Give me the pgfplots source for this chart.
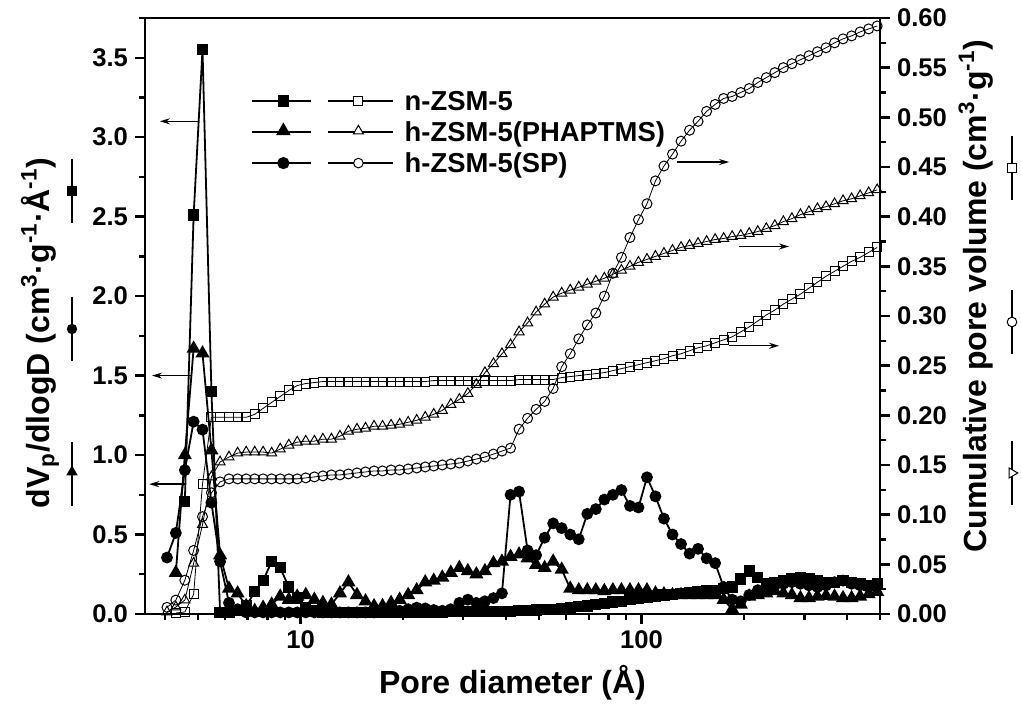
\documentclass[border=0pt]{standalone}
\usepackage{fontspec}
\setmainfont{Liberation Sans}
\usepackage{pgfplots}
\pgfplotsset{compat=1.18}
\usepackage{pgfplotstable}
\usetikzlibrary{arrows.meta}

% BJH pore size distribution: dV/dlogD (filled, left axis) and cumulative volume (open, right axis)
\pgfplotstableread{
D      sq     tri    cir    osq    otri   ocir
4.06   nan    nan    0.355  nan    0.002  0.0067
4.31   nan    0.26   0.51   0.001  0.007  0.014
4.58   0.71   1.00   0.905  0.002  0.014  0.034
4.86   2.51   1.67   1.21   0.020  0.051  0.064
5.16   3.55   1.64   1.16   0.131  0.090  0.098
5.48   1.40   1.03   0.70   0.198  0.138  0.122
5.81   0.01   0.37   0.33   0.198  0.153  0.133
6.17   0.01   0.16   0.07   0.198  0.158  0.136
6.54   0.02   0.13   0.03   0.198  0.162  0.136
6.93   0.05   0.05   0.01   0.198  0.163  0.136
7.34   0.14   0.02   0.01   0.201  0.163  0.136
7.77   0.21   0.04   0.01   0.207  0.163  0.136
8.23   0.33   0.06   0.01   0.213  0.162  0.136
8.72   0.29   0.11   0.01   0.219  0.166  0.136
9.24   0.17   0.09   0.01   0.225  0.170  0.136
9.78   0.10   0.11   0.01   0.230  0.173  0.136
10.36  0.04   0.12   0.01   0.232  0.174  0.137
10.98  0.02   0.09   0.01   0.233  0.174  0.138
11.63  0.01   0.07   0.01   0.234  0.176  0.139
12.32  0.01   0.06   0.01   0.234  0.176  0.140
13.05  0.01   0.13   0.01   0.234  0.179  0.140
13.82  0.01   0.20   0.01   0.234  0.184  0.141
14.64  0.01   0.12   0.01   0.234  0.186  0.142
15.51  0.01   0.08   0.01   0.234  0.187  0.143
16.43  0.01   0.05   0.01   0.234  0.189  0.144
17.40  0.01   0.05   0.015  0.234  0.189  0.144
18.43  0.01   0.07   0.02   0.234  0.190  0.145
19.53  0.01   0.09   0.02   0.234  0.191  0.145
20.68  0.01   0.12   0.03   0.234  0.193  0.146
21.91  0.01   0.15   0.04   0.234  0.195  0.147
23.21  0.01   0.20   0.035  0.234  0.198  0.148
24.58  0.01   0.21   0.025  0.235  0.201  0.149
26.04  0.01   0.23   0.02   0.235  0.205  0.150
27.58  0.015  0.26   0.03   0.235  0.211  0.151
29.22  0.015  0.29   0.07   0.235  0.216  0.152
30.95  0.015  0.27   0.09   0.235  0.222  0.154
32.78  0.015  0.25   0.07   0.235  0.231  0.156
34.73  0.015  0.27   0.08   0.235  0.243  0.158
36.79  0.015  0.32   0.10   0.235  0.252  0.161
38.96  0.015  0.33   0.13   0.235  0.262  0.164
41.28  0.015  0.36   0.75   0.235  0.271  0.167
43.72  0.02   0.375  0.77   0.236  0.284  0.186
46.31  0.02   0.35   0.40   0.236  0.293  0.197
49.06  0.025  0.31   0.37   0.236  0.304  0.206
51.97  0.03   0.29   0.48   0.236  0.312  0.214
55.05  0.03   0.33   0.57   0.236  0.319  0.227
58.31  0.035  0.28   0.54   0.238  0.323  0.249
61.77  0.04   0.16   0.50   0.239  0.326  0.262
65.43  0.045  0.15   0.47   0.240  0.329  0.277
69.31  0.05   0.15   0.63   0.241  0.332  0.291
73.42  0.06   0.15   0.66   0.242  0.335  0.303
77.77  0.065  0.145  0.72   0.243  0.338  0.320
82.38  0.075  0.15   0.75   0.245  0.342  0.343
87.26  0.08   0.15   0.78   0.247  0.346  0.359
92.43  0.09   0.15   0.68   0.249  0.350  0.379
97.91  0.10   0.15   0.67   0.251  0.354  0.397
103.7  0.105  0.15   0.86   0.253  0.357  0.413
109.8  0.11   0.13   0.74   0.255  0.360  0.436
116.3  0.12   0.125  0.60   0.257  0.363  0.451
123.2  0.125  0.12   0.50   0.260  0.366  0.463
130.5  0.13   0.12   0.44   0.262  0.369  0.476
138.2  0.135  0.12   0.38   0.265  0.371  0.487
146.4  0.14   0.12   0.41   0.268  0.373  0.496
155.1  0.145  0.12   0.35   0.270  0.375  0.506
164.3  0.15   0.12   0.32   0.273  0.377  0.513
174.0  0.16   0.09   0.17   0.276  0.378  0.519
184.3  0.17   0.03   0.09   0.279  0.380  0.521
195.3  0.22   0.06   0.08   0.284  0.381  0.525
206.8  0.27   0.11   0.12   0.289  0.383  0.529
219.1  0.23   0.12   0.15   0.295  0.385  0.535
232.1  0.19   0.13   0.17   0.301  0.388  0.540
245.8  0.20   0.145  0.18   0.306  0.391  0.545
260.4  0.21   0.13   0.19   0.312  0.395  0.550
275.8  0.22   0.12   0.20   0.317  0.398  0.554
292.2  0.23   0.10   0.19   0.322  0.402  0.558
309.5  0.225  0.10   0.18   0.328  0.405  0.562
327.8  0.21   0.11   0.17   0.334  0.408  0.566
347.3  0.20   0.115  0.18   0.340  0.410  0.570
367.9  0.20   0.11   0.20   0.345  0.413  0.575
389.6  0.21   0.10   0.21   0.350  0.416  0.579
412.7  0.20   0.10   0.19   0.355  0.418  0.582
437.2  0.19   0.11   0.18   0.359  0.421  0.586
463.1  0.18   0.125  0.17   0.364  0.424  0.589
490.5  0.19   0.14   0.18   0.369  0.427  0.592
}\psd

% small key symbols drawn as plain paths (legend and axis-title keys)
\newcommand{\keysq}[2]{\fill[shift={(#1,#2)}] (-2.4pt,-2.4pt) rectangle (2.4pt,2.4pt);}
\newcommand{\keytri}[2]{\fill[shift={(#1,#2)}] (90:3.3pt) -- (210:3.3pt) -- (330:3.3pt) -- cycle;}
\newcommand{\keycir}[2]{\fill[shift={(#1,#2)}] (0pt,0pt) circle (2.6pt);}
\newcommand{\keyosq}[2]{\filldraw[fill=white, line width=0.5pt, shift={(#1,#2)}] (-2.2pt,-2.2pt) rectangle (2.2pt,2.2pt);}
\newcommand{\keyotri}[3]{\filldraw[fill=white, line width=0.5pt, shift={(#1,#2)}, rotate=#3] (90:2.9pt) -- (210:2.9pt) -- (330:2.9pt) -- cycle;}
\newcommand{\keyocir}[2]{\filldraw[fill=white, line width=0.5pt, shift={(#1,#2)}] (0pt,0pt) circle (2.4pt);}

\tikzset{arr/.style={line width=0.7pt, -{Stealth[length=5pt,width=3pt]}}}

\begin{document}
\begin{tikzpicture}
\begin{axis}[name=main,
  scale only axis, width=367.5pt, height=298pt,
  xmode=log, xmin=3.5, xmax=500,
  xtick={10,100}, xticklabels={10,100},
  minor xtick={4,5,6,7,8,9,20,30,40,50,60,70,80,90,200,300,400,500},
  tick align=outside,
  major tick length=5pt, minor tick length=3pt,
  major tick style={line width=1.2pt, black},
  minor tick style={line width=1.2pt, black},
  axis line style={line width=1.2pt},
  tick label style={font=\fontsize{12.8}{14}\selectfont\bfseries},
  /pgf/number format/assume math mode=true,
  label style={font=\fontsize{16}{18}\selectfont\bfseries},
  clip mode=individual,
  ymin=0, ymax=3.75,
  ytick={0,0.5,1,1.5,2,2.5,3,3.5},
  minor ytick={0.25,0.75,1.25,1.75,2.25,2.75,3.25,3.75},
  yticklabel style={/pgf/number format/.cd, fixed, fixed zerofill, precision=1},
  ytick pos=left, xtick pos=left,
  xlabel={Pore diameter (Å)},
  xlabel style={at={(axis description cs:0.5,-0.1326)}, anchor=base},
  ylabel={dV\textsubscript{p}/dlogD (cm\textsuperscript{3}·g\textsuperscript{-1}·Å\textsuperscript{-1})},
  ylabel style={at={(axis description cs:-0.1429,0.4715)}, anchor=center},
  legend cell align=left,
  legend style={draw=none, fill=none, inner sep=0pt,
    at={(axis description cs:0.1438,0.8797)}, anchor=north west,
    row sep=4.5pt,
    font=\fontsize{13.7}{15}\selectfont\bfseries,
    nodes={inner sep=0pt, text height=10pt, text depth=1pt},
    /tikz/every odd column/.append style={column sep=5pt}},
]
\addplot[black, line width=0.9pt, mark=square*, mark size=2.35pt,
  mark options={solid, fill=black},
  legend image code/.code={
      \draw[line width=1.3pt] (0pt,0pt) -- (29.5pt,0pt);
      \keysq{15.5pt}{0pt}
      \draw[line width=1pt] (38pt,0pt) -- (70.5pt,0pt);
      \keyosq{53pt}{0pt}}]
  table[x=D, y=sq] {\psd};
\addlegendentry{n-ZSM-5}
\addplot[black, line width=0.9pt, mark=triangle*, mark size=3.2pt,
  mark options={solid, fill=black},
  legend image code/.code={
      \draw[line width=1.3pt] (0pt,0pt) -- (29.5pt,0pt);
      \keytri{15.5pt}{0.6pt}
      \draw[line width=1.3pt] (38pt,0pt) -- (70.5pt,0pt);
      \keyotri{53pt}{0.5pt}{0}}]
  table[x=D, y=tri] {\psd};
\addlegendentry{h-ZSM-5(PHAPTMS)}
\addplot[black, line width=0.9pt, mark=*, mark size=2.5pt,
  mark options={solid, fill=black},
  legend image code/.code={
      \draw[line width=1.3pt] (0pt,0pt) -- (29.5pt,0pt);
      \keycir{15.5pt}{0pt}
      \draw[line width=1pt] (38pt,0pt) -- (70.5pt,0pt);
      \keyocir{53pt}{0pt}}]
  table[x=D, y=cir] {\psd};
\addlegendentry{h-ZSM-5(SP)}
\draw[arr] (axis cs:5.05,3.10) -- (axis cs:3.87,3.10);
\draw[arr] (axis cs:4.77,1.50) -- (axis cs:3.67,1.50);
\draw[arr] (axis cs:4.61,0.817) -- (axis cs:3.60,0.817);
\end{axis}

\begin{axis}[
  scale only axis, width=367.5pt, height=298pt,
  xmode=log, xmin=3.5, xmax=500,
  hide x axis, axis y line*=right,
  tick align=outside,
  major tick length=5pt, minor tick length=3pt,
  major tick style={line width=1.2pt, black},
  minor tick style={line width=1.2pt, black},
  axis line style={line width=1.2pt},
  tick label style={font=\fontsize{12.8}{14}\selectfont\bfseries},
  /pgf/number format/assume math mode=true,
  label style={font=\fontsize{16}{18}\selectfont\bfseries},
  clip mode=individual,
  ymin=0, ymax=0.6,
  ytick={0,0.05,0.1,0.15,0.2,0.25,0.3,0.35,0.4,0.45,0.5,0.55,0.6},
  minor ytick={0.025,0.075,0.125,0.175,0.225,0.275,0.325,0.375,0.425,0.475,0.525,0.575},
  yticklabel style={/pgf/number format/.cd, fixed, fixed zerofill, precision=2},
  ylabel={Cumulative pore volume (cm\textsuperscript{3}·g\textsuperscript{-1})},
  ylabel style={at={(axis description cs:1.1306,0.5336)}, anchor=center},
]
\addplot[black, line width=0.4pt, mark=square, mark size=2.25pt,
  mark options={solid, fill=white, line width=0.5pt}] table[x=D, y=osq] {\psd};
\addplot[black, line width=0.4pt, mark=triangle, mark size=2.9pt,
  mark options={solid, fill=white, line width=0.5pt}] table[x=D, y=otri] {\psd};
\addplot[black, line width=0.4pt, mark=o, mark size=2.5pt,
  mark options={solid, fill=white, line width=0.5pt}] table[x=D, y=ocir] {\psd};
\draw[arr] (axis cs:127.4,0.455) -- (axis cs:180.6,0.455);
\draw[arr] (axis cs:192.8,0.37) -- (axis cs:270.5,0.37);
\draw[arr] (axis cs:180.3,0.27) -- (axis cs:252.9,0.27);
\end{axis}

% series keys beside the axis titles
\begin{scope}[shift={(main.north west)}]
  \draw[line width=1.2pt] (-36.5pt,-70.5pt) -- (-36.5pt,-102.5pt);
  \keysq{-36.5pt}{-86.5pt}
  \draw[line width=1.2pt] (-36.5pt,-139.5pt) -- (-36.5pt,-171.5pt);
  \keycir{-36.5pt}{-155.5pt}
  \draw[line width=1.2pt] (-36.5pt,-212pt) -- (-36.5pt,-244pt);
  \keytri{-36.5pt}{-227pt}
\end{scope}
\begin{scope}[shift={(main.north east)}]
  \draw[line width=0.8pt] (66pt,-59pt) -- (66pt,-91pt);
  \keyosq{66pt}{-75pt}
  \draw[line width=0.8pt] (66pt,-136pt) -- (66pt,-168pt);
  \keyocir{66pt}{-152pt}
  \draw[line width=0.8pt] (66pt,-211.5pt) -- (66pt,-243.5pt);
  \keyotri{66pt}{-227.5pt}{-90}
\end{scope}

\pgfresetboundingbox
\path[use as bounding box] ([shift={(-72.5pt,-45.5pt)}]main.south west) rectangle ([shift={(70.5pt,9pt)}]main.north east);
\end{tikzpicture}
\end{document}
